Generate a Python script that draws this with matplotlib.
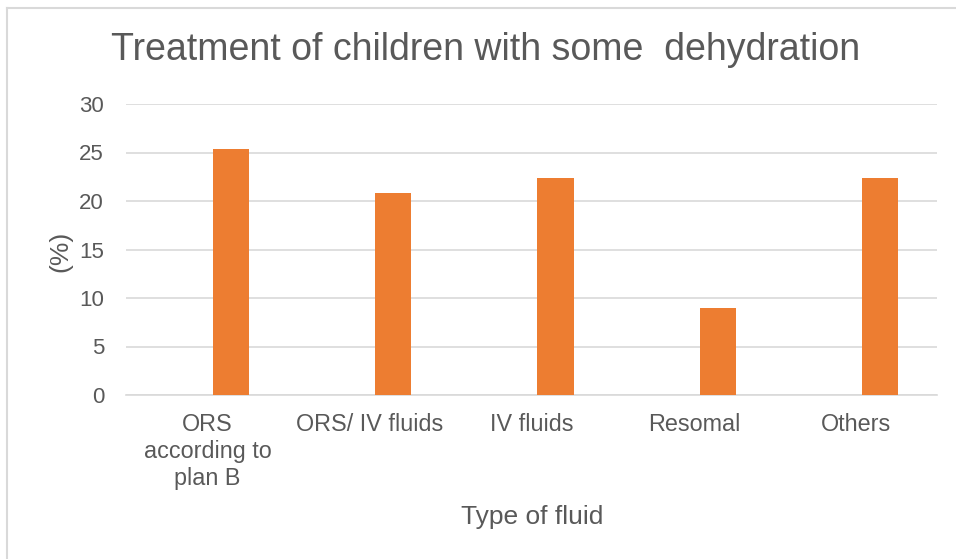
import matplotlib.pyplot as plt
from matplotlib.lines import Line2D

categories = ["ORS\naccording to\nplan B", "ORS/ IV fluids", "IV fluids", "Resomal", "Others"]
percent = [25.4, 20.8, 22.4, 9.0, 22.4]
y_ticks = [0, 5, 10, 15, 20, 25, 30]

TEXT = "#595959"
GRID = "#d9d9d9"
BAR = "#ED7D31"

plt.rcParams["font.family"] = ["Liberation Sans", "DejaVu Sans"]

W, H = 956, 559
fig = plt.figure(figsize=(W / 100, H / 100), dpi=100)
ax = fig.add_axes([126.3 / W, 1 - 395 / H, 811 / W, 291 / H])

# excel-style clustered bar: the visible series sits right of the category centre
x = list(range(len(categories)))
ax.bar([i + 0.146 for i in x], percent, width=0.224, color=BAR, zorder=3)

ax.set_xlim(-0.5, len(categories) - 0.5)
ax.set_ylim(0, 30)
ax.set_yticks(y_ticks)
ax.set_xticks(x)
ax.set_xticklabels(categories, linespacing=1.22)
ax.tick_params(axis="both", length=0, colors=TEXT)
ax.tick_params(axis="y", pad=16, labelsize=16)
ax.tick_params(axis="x", pad=13, labelsize=16.8)
ax.yaxis.grid(True, color=GRID, linewidth=1.2, zorder=0)
for s in ["top", "right", "left"]:
    ax.spines[s].set_visible(False)
ax.spines["bottom"].set_color(GRID)
ax.spines["bottom"].set_linewidth(1.2)

fig.text(486 / W, 1 - 50 / H, "Treatment of children with some  dehydration",
         fontsize=27, color=TEXT, ha="center", va="center")
fig.text(532 / W, 1 - 517 / H, "Type of fluid", fontsize=19, color=TEXT,
         ha="center", va="center")
fig.text(60 / W, 1 - 251 / H, "(%)", fontsize=19, color=TEXT, rotation=90,
         ha="center", va="center")

# chart area border
fig.add_artist(Line2D([7 / W, 7 / W], [0, 1 - 8 / H], color=GRID, linewidth=1.5))
fig.add_artist(Line2D([7 / W, 1], [1 - 8 / H, 1 - 8 / H], color=GRID, linewidth=1.5))

fig.savefig("out.png", dpi=100)
